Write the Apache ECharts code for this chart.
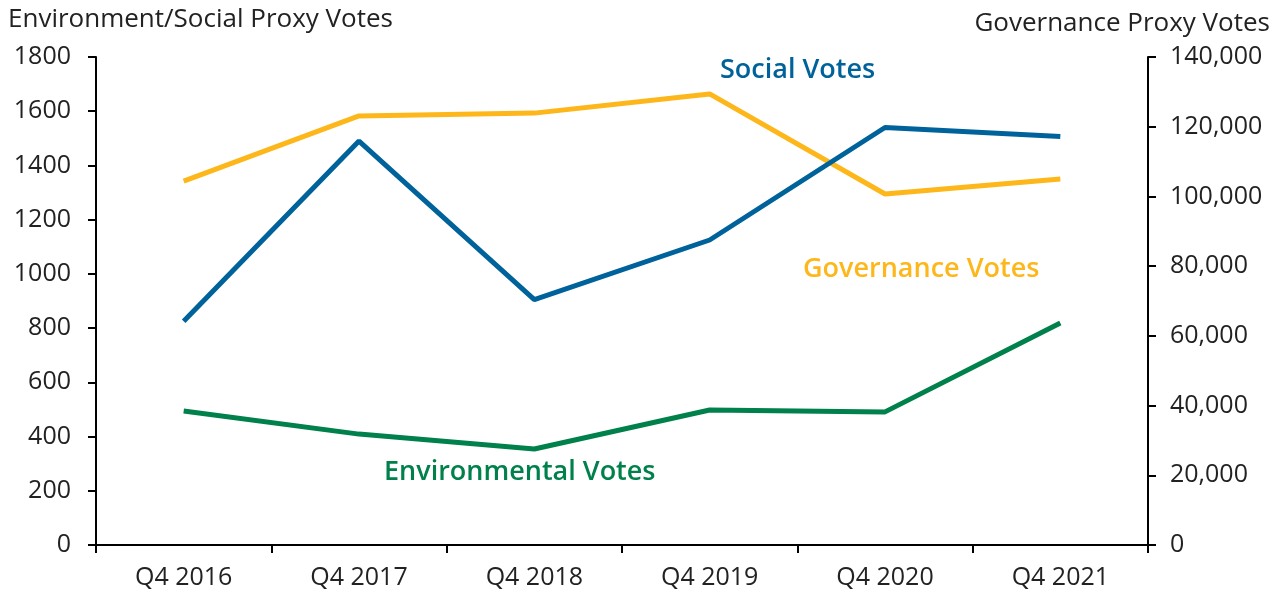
<!DOCTYPE html>
<html>
<head>
<meta charset="utf-8">
<script src="https://cdn.jsdelivr.net/npm/echarts@6/dist/echarts.min.js"></script>
<style>
html,body{margin:0;padding:0;background:#fff;}
#c{width:1286px;height:590px;}
</style>
</head>
<body>
<div id="c"></div>
<script>
const categories = ['Q4 2016','Q4 2017','Q4 2018','Q4 2019','Q4 2020','Q4 2021'];
const socialVotes = [825, 1490, 905, 1125, 1540, 1507];
const environmentalVotes = [494, 409, 354, 498, 491, 819];
const governanceVotes = [104400, 123100, 123900, 129400, 100700, 105000];
const leftTicks = {min: 0, max: 1800, interval: 200};
const rightTicks = {min: 0, max: 140000, interval: 20000};

const FONT = '"Open Sans"';
const BLUE = '#00629B', GOLD = '#FDB71A', GREEN = '#00804A';

const chart = echarts.init(document.getElementById('c'));
chart.setOption({
  animation: false,
  textStyle: {fontFamily: FONT},
  grid: {left: 96, right: 138, top: 57, bottom: 45, containLabel: false},
  xAxis: {
    type: 'category',
    data: categories,
    boundaryGap: true,
    axisLine: {lineStyle: {color: '#000', width: 2}},
    axisTick: {show: true, length: 8, lineStyle: {color: '#000', width: 2}},
    axisLabel: {color: '#222', fontSize: 25, margin: 20, fontFamily: FONT},
    splitLine: {show: false}
  },
  yAxis: [
    {
      type: 'value', position: 'left',
      min: leftTicks.min, max: leftTicks.max, interval: leftTicks.interval,
      axisLine: {show: true, lineStyle: {color: '#000', width: 2}},
      axisTick: {show: true, length: 8, lineStyle: {color: '#000', width: 2}},
      axisLabel: {color: '#222', fontSize: 25, margin: 25, fontFamily: FONT,
        formatter: v => String(v)},
      splitLine: {show: false}
    },
    {
      type: 'value', position: 'right',
      min: rightTicks.min, max: rightTicks.max, interval: rightTicks.interval,
      axisLine: {show: true, lineStyle: {color: '#000', width: 2}},
      axisTick: {show: true, length: 8, lineStyle: {color: '#000', width: 2}},
      axisLabel: {color: '#222', fontSize: 25, margin: 22, fontFamily: FONT,
        formatter: v => v.toLocaleString('en-US')},
      splitLine: {show: false}
    }
  ],
  series: [
    {name: 'Governance Votes', type: 'line', yAxisIndex: 1, data: governanceVotes,
      symbol: 'none', lineStyle: {color: GOLD, width: 5}, itemStyle: {color: GOLD}},
    {name: 'Social Votes', type: 'line', yAxisIndex: 0, data: socialVotes,
      symbol: 'none', lineStyle: {color: BLUE, width: 5}, itemStyle: {color: BLUE}},
    {name: 'Environmental Votes', type: 'line', yAxisIndex: 0, data: environmentalVotes,
      symbol: 'none', lineStyle: {color: GREEN, width: 5}, itemStyle: {color: GREEN}}
  ],
  graphic: [
    {type: 'text', left: 8, top: 7, style: {text: 'Environment/Social Proxy Votes', fill: '#222', font: '26px ' + FONT}},
    {type: 'text', right: 16, top: 11, style: {text: 'Governance Proxy Votes', fill: '#222', font: '26px ' + FONT}},
    {type: 'text', left: 720, top: 57, style: {text: 'Social Votes', fill: BLUE, font: '600 27px ' + FONT}},
    {type: 'text', left: 803, top: 256, style: {text: 'Governance Votes', fill: GOLD, font: '600 27px ' + FONT}},
    {type: 'text', left: 384, top: 459, style: {text: 'Environmental Votes', fill: GREEN, font: '600 27px ' + FONT}}
  ]
});
</script>
</body>
</html>
